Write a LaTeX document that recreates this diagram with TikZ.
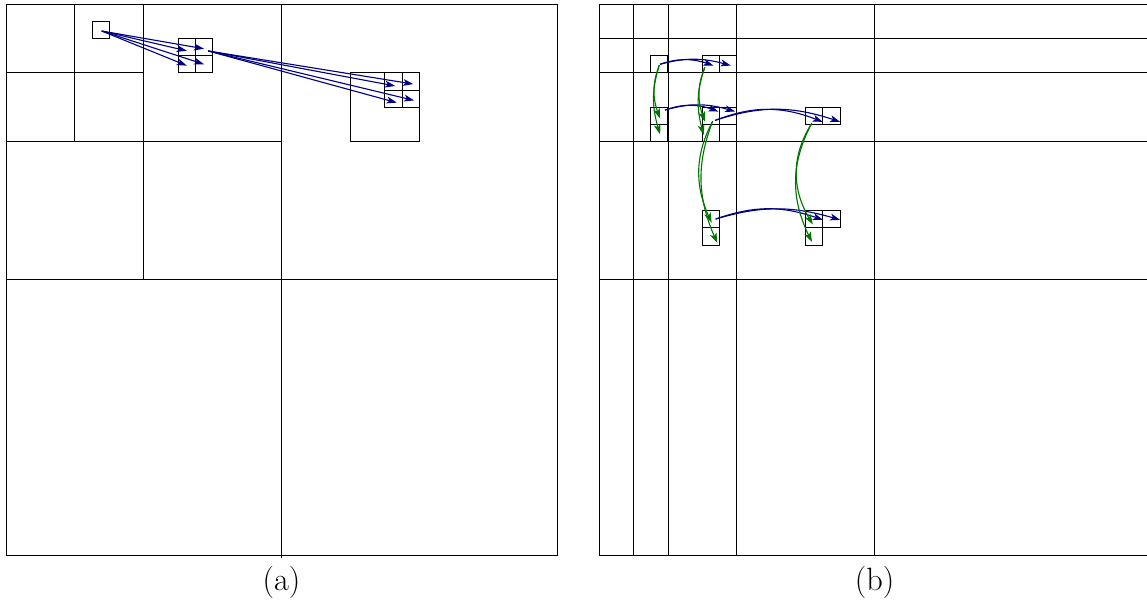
\documentclass[tikz,border=0pt]{standalone}
\usetikzlibrary{arrows.meta,bending}
\definecolor{navyc}{RGB}{0,0,128}
\definecolor{greenc}{RGB}{0,115,0}
\begin{document}
\begin{tikzpicture}[x=0.3cm,y=0.3cm,
  gridline/.style={line width=0.4pt, black},
  cellbox/.style={line width=0.55pt, black},
  barrow/.style={draw=navyc, line width=0.55pt, -{Stealth[length=5pt,width=3.4pt,inset=1.3pt,bend]}},
  garrow/.style={draw=greenc, line width=0.55pt, -{Stealth[length=5pt,width=3.4pt,inset=1.3pt,bend]}},
  caption/.style={font=\fontsize{16}{18}\selectfont, inner sep=0pt}]
\useasboundingbox (-0.348,0.232) rectangle (66.26,-35.08);

% ---------------- panel (a) ----------------
\begin{scope}
  \draw[gridline] (0,0) rectangle (32,-32);
  \draw[gridline] (16,0) -- (16,-32.15);
  \draw[gridline] (0,-16) -- (32,-16);
  \draw[gridline] (8,0) -- (8,-16);
  \draw[gridline] (0,-8) -- (16,-8);
  \draw[gridline] (4,0) -- (4,-8);
  \draw[gridline] (0,-4) -- (8,-4);
  % small cell
  \draw[cellbox] (5,-2) rectangle (6,-1);
  % 2x2 group
  \draw[cellbox] (10,-4) rectangle (12,-2) (11,-2) -- (11,-4) (10,-3) -- (12,-3);
  % big square with 2x2 subgroup
  \draw[cellbox] (20,-8) rectangle (24,-4);
  \draw[cellbox] (22,-6) rectangle (24,-4) (23,-4) -- (23,-6) (22,-5) -- (24,-5);

  \coordinate (a0) at (5.56,-1.57);
  \coordinate (a1) at (10.5,-2.72);
  \coordinate (a2) at (11.5,-2.6);
  \coordinate (a3) at (10.5,-3.58);
  \coordinate (a4) at (11.5,-3.5);
  \coordinate (a5) at (11.75,-2.73);
  \coordinate (a6) at (22.6,-4.76);
  \coordinate (a7) at (23.65,-4.65);
  \coordinate (a8) at (22.69,-5.73);
  \coordinate (a9) at (23.7,-5.6);
  \foreach \t in {a1,a2,a3,a4} \draw[barrow] (a0) -- (\t);
  \foreach \t in {a6,a7,a8,a9} \draw[barrow] (a5) -- (\t);

  \node[caption] (capa) at (16,-33.62) {(a)};
\end{scope}

% ---------------- panel (b) ----------------
\begin{scope}[shift={(34.44,0)}]
  \draw[gridline] (0,0) rectangle (32,-32);
  \foreach \v in {2,4,8,16} {
    \draw[gridline] (\v,0) -- (\v,-32);
    \draw[gridline] (0,-\v) -- (32,-\v);
  }
  \foreach \cx/\cy in {3/3, 6/3, 7/3, 3/6, 3/7, 6/6, 7/6, 6/7, 12/6, 13/6, 6/12, 6/13, 12/12, 13/12, 12/13}
    \draw[cellbox] (\cx,-\cy) rectangle ++(1,-1);

  % source / target points
  \coordinate (b33) at (3.54,-3.5);
  \coordinate (b63) at (6.64,-3.58);
  \coordinate (b73) at (7.65,-3.58);
  \coordinate (b36s) at (3.83,-6.16);
  \coordinate (b66) at (6.93,-6.25);
  \coordinate (b76) at (7.9,-6.25);
  \coordinate (b66s) at (6.74,-6.76);
  \coordinate (b126) at (12.99,-6.85);
  \coordinate (b136) at (14.0,-6.85);
  \coordinate (b612s) at (6.77,-12.49);
  \coordinate (b1212) at (13.0,-12.54);
  \coordinate (b1312) at (14.0,-12.54);

  \coordinate (g33) at (3.5,-3.55);
  \coordinate (g36) at (3.55,-6.65);
  \coordinate (g37) at (3.55,-7.57);
  \coordinate (g63) at (6.14,-3.68);
  \coordinate (g66) at (6.15,-6.83);
  \coordinate (g67) at (6.08,-7.6);
  \coordinate (g66s) at (6.6,-6.8);
  \coordinate (g612) at (6.54,-12.7);
  \coordinate (g613) at (6.87,-13.88);
  \coordinate (g126s) at (12.35,-6.93);
  \coordinate (g1212) at (12.42,-12.8);
  \coordinate (g1213) at (12.37,-13.82);

  % blue (horizontal) arrows
  \draw[barrow] (b33) to[bend left=20] (b63);
  \draw[barrow] (b33) to[bend left=16] (b73);
  \draw[barrow] (b36s) to[bend left=21] (b66);
  \draw[barrow] (b36s) to[bend left=17] (b76);
  \draw[barrow] (b66s) to[bend left=22] (b126);
  \draw[barrow] (b66s) to[bend left=19] (b136);
  \draw[barrow] (b612s) to[bend left=20] (b1212);
  \draw[barrow] (b612s) to[bend left=17] (b1312);

  % green (vertical) arrows
  \draw[garrow] (g33) to[bend right=22] (g36);
  \draw[garrow] (g33) to[bend right=18] (g37);
  \draw[garrow] (g63) to[bend right=22] (g66);
  \draw[garrow] (g63) to[bend right=18] (g67);
  \draw[garrow] (g66s) to[bend right=27] (g612);
  \draw[garrow] (g66s) to[bend right=23] (g613);
  \draw[garrow] (g126s) to[bend right=33] (g1212);
  \draw[garrow] (g126s) to[bend right=28] (g1213);

  \node[caption] (capb) at (16,-33.62) {(b)};
\end{scope}
\end{tikzpicture}
\end{document}
